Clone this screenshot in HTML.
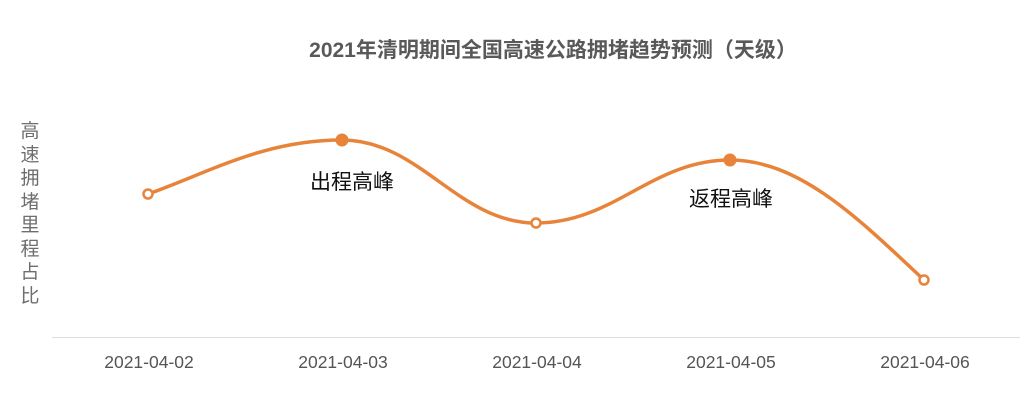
<!DOCTYPE html>
<html><head><meta charset="utf-8"><style>
html,body{margin:0;padding:0;background:#fff;}
</style></head><body>
<svg width="1024" height="401" viewBox="0 0 1024 401" xmlns="http://www.w3.org/2000/svg">
<rect width="1024" height="401" fill="#fff"/>
<text x="553" y="57" text-anchor="middle" font-family="Liberation Sans, Noto Sans CJK SC, sans-serif" font-size="21" font-weight="bold" fill="#595959">2021年清明期间全国高速公路拥堵趋势预测（天级）</text>
<g font-family="Liberation Sans, Noto Sans CJK SC, sans-serif" font-size="19" fill="#6e6e6e" text-anchor="middle">
<text x="30" y="137">高</text><text x="30" y="161">速</text><text x="30" y="184">拥</text><text x="30" y="208">堵</text><text x="30" y="231">里</text><text x="30" y="255">程</text><text x="30" y="278">占</text><text x="30" y="302">比</text>
</g>
<line x1="52" y1="337.5" x2="1020" y2="337.5" stroke="#dcdcdc" stroke-width="1"/>
<g font-family="Liberation Sans, sans-serif" font-size="17.5" fill="#555" text-anchor="middle">
<text x="149" y="368">2021-04-02</text><text x="343" y="368">2021-04-03</text><text x="537" y="368">2021-04-04</text><text x="731" y="368">2021-04-05</text><text x="925" y="368">2021-04-06</text>
</g>
<path d="M148,194 C210,172 264,140 342,140 C420,140 458,223 536,223 C614,223 652,160 730,160 C800,160 860,220 924,280" fill="none" stroke="#e8843a" stroke-width="3.5" stroke-linecap="round"/>
<g stroke="#e8843a" stroke-width="2.5" fill="#fff">
<circle cx="148" cy="194" r="4.5"/><circle cx="536" cy="223" r="4.5"/><circle cx="924" cy="280" r="4.5"/>
</g>
<circle cx="342" cy="140" r="6.5" fill="#e8843a"/>
<circle cx="730" cy="160" r="6.5" fill="#e8843a"/>
<g font-family="Liberation Sans, Noto Sans CJK SC, sans-serif" font-size="21" fill="#111" text-anchor="middle">
<text x="352" y="189">出程高峰</text>
<text x="731" y="206">返程高峰</text>
</g>
</svg>
</body></html>
